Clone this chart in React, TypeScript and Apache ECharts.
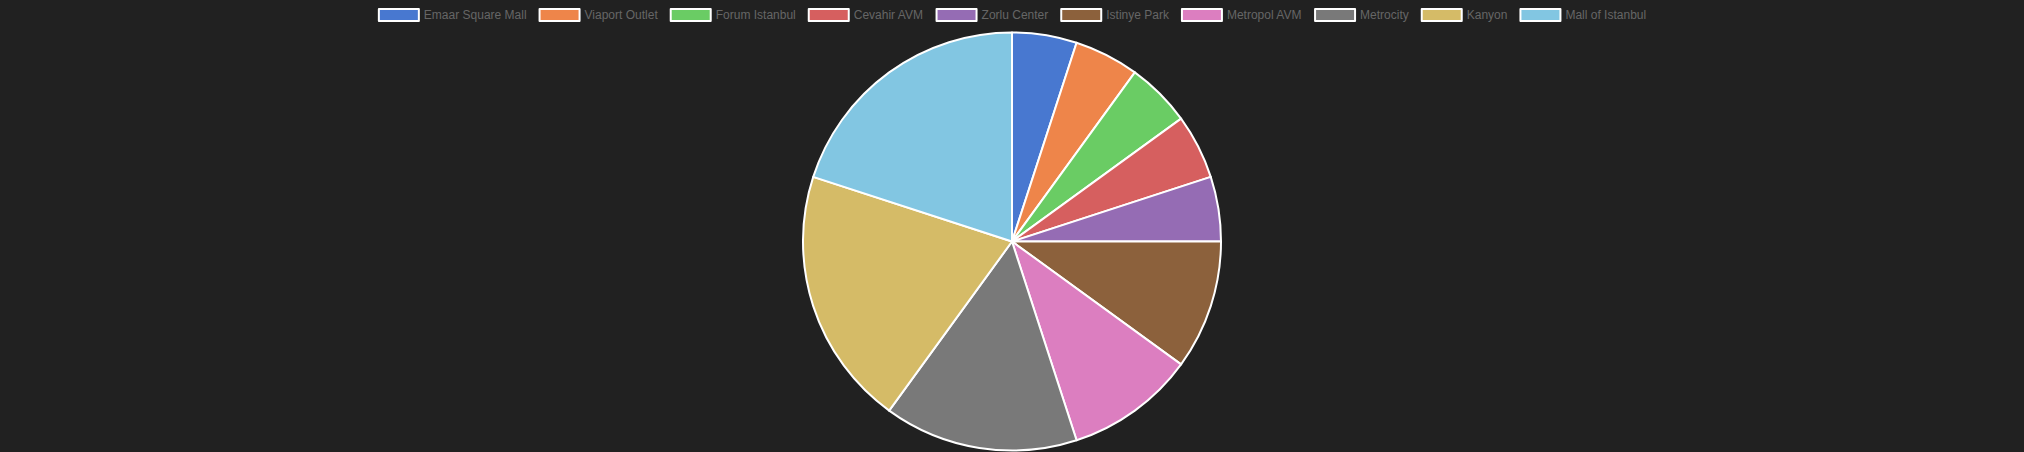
import React, { useEffect, useRef } from "react";
import * as echarts from "echarts";

const categories = [
  "Emaar Square Mall",
  "Viaport Outlet",
  "Forum Istanbul",
  "Cevahir AVM",
  "Zorlu Center",
  "Istinye Park",
  "Metropol AVM",
  "Metrocity",
  "Kanyon",
  "Mall of Istanbul",
];
const values = [5, 5, 5, 5, 5, 10, 10, 15, 20, 20];
const colors = [
  "#4878d0",
  "#ee854a",
  "#6acc64",
  "#d65f5f",
  "#956cb4",
  "#8c613c",
  "#dc7ec0",
  "#797979",
  "#d5bb67",
  "#82c6e2",
];

export default function App() {
  const ref = useRef<HTMLDivElement>(null);
  useEffect(() => {
    if (!ref.current) return;
    const chart = echarts.init(ref.current, undefined, { renderer: "svg" });
    chart.setOption({
      animation: false,
      backgroundColor: "#212121",
      color: colors,
      legend: {
        top: 3,
        left: "center",
        itemWidth: 40,
        itemHeight: 12,
        itemGap: 12,
        icon: "rect",
        selectedMode: false,
        textStyle: {
          color: "#666666",
          fontSize: 12,
          fontFamily: "Liberation Sans, Arial, sans-serif",
        },
        data: categories,
      },
      series: [
        {
          type: "pie",
          center: [1012, 241.5],
          radius: 209,
          startAngle: 90,
          clockwise: true,
          label: { show: false },
          labelLine: { show: false },
          emphasis: { disabled: true },
          itemStyle: { borderColor: "#ffffff", borderWidth: 2 },
          data: categories.map((name, i) => ({ name, value: values[i] })),
        },
      ],
    });
    return () => chart.dispose();
  }, []);
  return (
    <div
      ref={ref}
      style={{ position: "absolute", left: 0, top: 0, width: 2024, height: 452 }}
    />
  );
}
